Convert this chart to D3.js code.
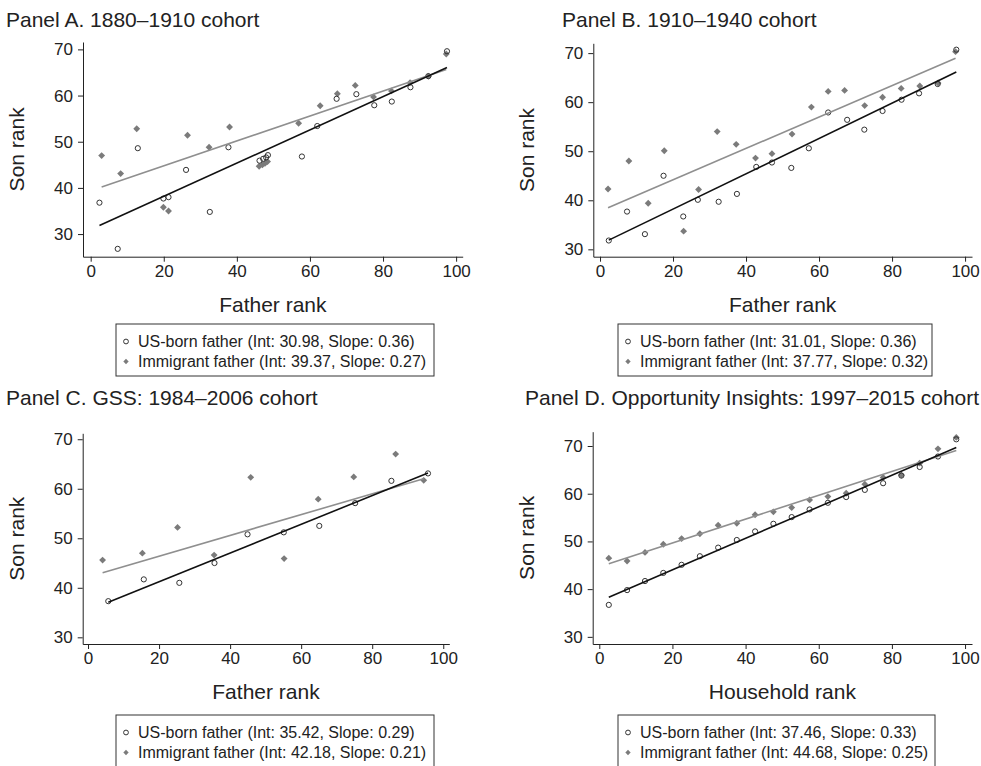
<!DOCTYPE html>
<html>
<head>
<meta charset="utf-8">
<script src="https://cdn.jsdelivr.net/npm/d3@7"></script>
<style>
  body { margin: 0; background: #fff; }
  text { font-family: "Liberation Sans", Arial, Helvetica, sans-serif; fill: #222; }
</style>
</head>
<body>
<svg id="chart"></svg>
<script>
// ---- data ----
const xTicks = [0, 20, 40, 60, 80, 100];
const yTicks = [30, 40, 50, 60, 70];

// Panel A. 1880-1910
const aUsX  = [2.4, 7.4, 12.9, 19.9, 21.3, 26.1, 32.6, 37.7, 46.2, 47.2, 48.0, 48.5, 57.8, 62.0, 67.3, 72.7, 77.6, 82.4, 87.5, 92.4, 97.5];
const aUsY  = [36.8, 26.8, 48.6, 37.7, 38.0, 43.9, 34.8, 48.8, 45.9, 46.3, 46.6, 47.1, 46.8, 53.4, 59.3, 60.3, 57.9, 58.7, 61.8, 64.2, 69.6];
const aImX  = [3.0, 8.2, 12.6, 19.9, 21.3, 26.5, 32.4, 38.0, 46.1, 47.0, 47.7, 48.4, 56.9, 62.8, 67.5, 72.4, 77.4, 82.3, 87.4, 92.4, 97.3];
const aImY  = [47.0, 43.1, 52.8, 35.8, 35.0, 51.4, 48.8, 53.2, 44.7, 45.0, 45.3, 45.7, 54.0, 57.8, 60.4, 62.2, 59.7, 61.0, 62.8, 64.2, 69.0];

// Panel B. 1910-1940
const bUsX  = [2.4, 7.4, 12.3, 17.4, 22.8, 26.8, 32.5, 37.5, 42.8, 47.1, 52.4, 57.2, 62.5, 67.7, 72.4, 77.4, 82.6, 87.4, 92.5, 97.6];
const bUsY  = [31.8, 37.7, 33.1, 45.0, 36.7, 40.1, 39.7, 41.3, 46.8, 47.7, 46.6, 50.6, 57.9, 56.4, 54.4, 58.2, 60.5, 61.8, 63.7, 70.7];
const bImX  = [2.2, 7.9, 13.2, 17.6, 22.9, 27.0, 32.1, 37.3, 42.6, 47.1, 52.6, 57.9, 62.5, 67.0, 72.5, 77.4, 82.5, 87.6, 92.6, 97.4];
const bImY  = [42.3, 48.0, 39.4, 50.1, 33.7, 42.2, 54.0, 51.4, 48.6, 49.5, 53.5, 59.0, 62.2, 62.4, 59.3, 61.0, 62.8, 63.3, 63.9, 70.3];

// Panel C. GSS
const cUsX  = [5.7, 15.7, 25.7, 35.6, 44.9, 55.1, 65.1, 75.2, 85.4, 95.7];
const cUsY  = [37.3, 41.7, 41.0, 45.0, 50.8, 51.2, 52.5, 57.1, 61.6, 63.1];
const cImX  = [4.1, 15.3, 25.2, 35.5, 45.8, 55.2, 64.8, 74.8, 86.6, 94.5];
const cImY  = [45.6, 47.0, 52.2, 46.6, 62.3, 45.9, 57.9, 62.4, 67.0, 61.7];

// Panel D. Opportunity Insights
const dUsX  = [2.6, 7.6, 12.5, 17.5, 22.5, 27.5, 32.5, 37.6, 42.6, 47.6, 52.6, 57.5, 62.5, 67.5, 72.6, 77.6, 82.6, 87.6, 92.6, 97.6];
const dUsY  = [36.7, 39.8, 41.7, 43.4, 45.1, 46.9, 48.7, 50.3, 52.1, 53.7, 55.1, 56.7, 58.1, 59.3, 60.8, 62.2, 63.8, 65.6, 67.8, 71.4];
const dImX  = [2.6, 7.6, 12.5, 17.5, 22.5, 27.5, 32.5, 37.6, 42.6, 47.6, 52.6, 57.5, 62.5, 67.5, 72.6, 77.6, 82.6, 87.6, 92.6, 97.6];
const dImY  = [46.5, 45.9, 47.7, 49.4, 50.6, 51.6, 53.4, 53.8, 55.6, 56.2, 57.1, 58.7, 59.4, 60.1, 62.0, 63.4, 63.9, 66.4, 69.4, 71.8];

// fitted lines (from legend): [intercept, slope]
const usFits  = [[30.98, 0.36], [31.01, 0.36], [35.42, 0.29], [37.46, 0.33]];
const immFits = [[39.37, 0.27], [37.77, 0.32], [42.18, 0.21], [44.68, 0.25]];

const titles  = ["Panel A. 1880\u20131910 cohort", "Panel B. 1910\u20131940 cohort",
                 "Panel C. GSS: 1984\u20132006 cohort", "Panel D. Opportunity Insights: 1997\u20132015 cohort"];
const xLabels = ["Father rank", "Father rank", "Father rank", "Household rank"];

// ---- layout ----
const width = 981, height = 766;
const immColor = "#7b7b7b", immLine = "#8f8f8f";

const layout = [
  { tx: 6,   ty: 27,  left: 83,    right: 462.7, bottom: 256.7, top: 42,    xDom: [-2.1, 101.8],  yDom: [25.1, 71.6],  legX: 116, legY: 324, legW: 318 },
  { tx: 562, ty: 27,  left: 593.3, right: 972,   bottom: 256.7, top: 43.3,  xDom: [-1.84, 101.9], yDom: [28.5, 72.0],  legX: 618, legY: 324, legW: 314 },
  { tx: 6,   ty: 405, left: 82.7,  right: 449.3, bottom: 644,   top: 433.3, xDom: [-1.5, 101.7],  yDom: [28.65, 71.2], legX: 116, legY: 715, legW: 318 },
  { tx: 525, ty: 405, left: 592.7, right: 972,   bottom: 644,   top: 431.7, xDom: [-1.8, 101.9],  yDom: [28.5, 73.0],  legX: 618, legY: 715, legW: 317 }
];

const series = [
  { us: d3.zip(aUsX, aUsY), imm: d3.zip(aImX, aImY) },
  { us: d3.zip(bUsX, bUsY), imm: d3.zip(bImX, bImY) },
  { us: d3.zip(cUsX, cUsY), imm: d3.zip(cImX, cImY) },
  { us: d3.zip(dUsX, dUsY), imm: d3.zip(dImX, dImY) }
];

const svg = d3.select("#chart")
  .attr("width", width)
  .attr("height", height);

const diamond = d3.symbol().type(d3.symbolDiamond2).size(30);

layout.forEach((p, i) => {
  const g = svg.append("g");
  const x = d3.scaleLinear().domain(p.xDom).range([p.left, p.right]);
  const y = d3.scaleLinear().domain(p.yDom).range([p.bottom, p.top]);

  // title
  g.append("text")
    .attr("x", p.tx)
    .attr("y", p.ty)
    .attr("font-size", "21px")
    .text(titles[i]);

  // axes
  const xAxis = g.append("g")
    .attr("transform", `translate(0,${p.bottom})`)
    .call(d3.axisBottom(x).tickValues(xTicks).tickSize(5).tickSizeOuter(0).tickPadding(3));
  const yAxis = g.append("g")
    .attr("transform", `translate(${p.left},0)`)
    .call(d3.axisLeft(y).tickValues(yTicks).tickSize(5).tickSizeOuter(0).tickPadding(5));
  [xAxis, yAxis].forEach(a => {
    a.selectAll("path, line").attr("stroke", "#222").attr("stroke-width", 1);
    a.selectAll("text").attr("font-size", "17px").attr("fill", "#222")
      .style("font-family", "'Liberation Sans', Arial, Helvetica, sans-serif");
  });

  // axis titles
  g.append("text")
    .attr("x", (p.left + p.right) / 2)
    .attr("y", p.bottom + 55)
    .attr("text-anchor", "middle")
    .attr("font-size", "21px")
    .text(xLabels[i]);
  g.append("text")
    .attr("transform", `translate(${p.left - 59},${(p.top + p.bottom) / 2}) rotate(-90)`)
    .attr("text-anchor", "middle")
    .attr("font-size", "21px")
    .text("Son rank");

  const s = series[i];

  // immigrant diamonds
  g.selectAll(".imm")
    .data(s.imm)
    .enter()
    .append("path")
    .attr("class", "imm")
    .attr("d", diamond)
    .attr("transform", d => `translate(${x(d[0])},${y(d[1])})`)
    .attr("fill", immColor);

  // US-born circles
  g.selectAll(".us")
    .data(s.us)
    .enter()
    .append("circle")
    .attr("class", "us")
    .attr("cx", d => x(d[0]))
    .attr("cy", d => y(d[1]))
    .attr("r", 2.6)
    .attr("fill", "none")
    .attr("stroke", "#333")
    .attr("stroke-width", 1);

  // fitted lines over the range of each group
  function fitLine(pts, fit, color) {
    const ext = d3.extent(pts, d => d[0]);
    const ends = ext.map(v => [v, fit[0] + fit[1] * v]);
    g.append("path")
      .attr("d", d3.line().x(d => x(d[0])).y(d => y(d[1]))(ends))
      .attr("fill", "none")
      .attr("stroke", color)
      .attr("stroke-width", 1.6);
  }
  fitLine(s.imm, immFits[i], immLine);
  fitLine(s.us, usFits[i], "#111");

  // legend
  const leg = g.append("g").attr("transform", `translate(${p.legX},${p.legY})`);
  leg.append("rect")
    .attr("width", p.legW)
    .attr("height", 52)
    .attr("fill", "#fff")
    .attr("stroke", "#333")
    .attr("stroke-width", 1);
  leg.append("circle")
    .attr("cx", 10).attr("cy", 17.5).attr("r", 2.4)
    .attr("fill", "none").attr("stroke", "#333");
  leg.append("path")
    .attr("d", d3.symbol().type(d3.symbolDiamond2).size(18))
    .attr("transform", "translate(10,37.5)")
    .attr("fill", immColor);
  leg.append("text")
    .attr("x", 22).attr("y", 17.5).attr("dy", "0.35em")
    .attr("font-size", "16px")
    .text(`US-born father (Int: ${usFits[i][0].toFixed(2)}, Slope: ${usFits[i][1].toFixed(2)})`);
  leg.append("text")
    .attr("x", 22).attr("y", 37.5).attr("dy", "0.35em")
    .attr("font-size", "16px")
    .text(`Immigrant father (Int: ${immFits[i][0].toFixed(2)}, Slope: ${immFits[i][1].toFixed(2)})`);
});
</script>
</body>
</html>
